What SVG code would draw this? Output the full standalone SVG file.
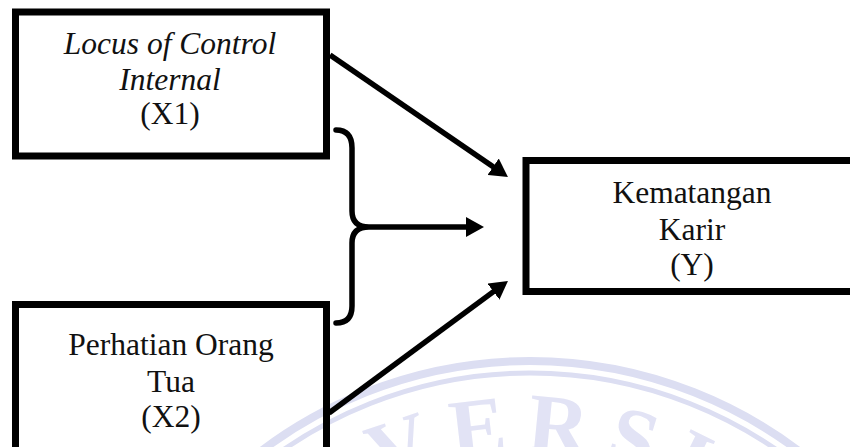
<svg xmlns="http://www.w3.org/2000/svg" xmlns:xlink="http://www.w3.org/1999/xlink" width="850" height="447" viewBox="0 0 850 447">
  <style>
    .box { fill: none; stroke: #000; stroke-width: 7; }
    .lbl { font-family: "Liberation Serif", "Times New Roman", serif; font-size: 31.5px; fill: #111; text-anchor: middle; }
    .it { font-style: italic; }
    .conn { fill: none; stroke: #000; stroke-width: 5.5; }
    .wm { fill: none; stroke: #dcdef2; }
    .wmt { font-family: "Liberation Serif", serif; font-weight: bold; font-size: 84px; fill: #e2e3f5; letter-spacing: 17px; }
  </style>
  <defs>
    <marker id="ah" markerUnits="userSpaceOnUse" markerWidth="18" markerHeight="20" viewBox="0 0 18 20" refX="8" refY="10" orient="auto">
      <path d="M0,0 L18,10 L0,20 z" fill="#000"/>
    </marker>
    <path id="wmArc" d="M175,807 A355,355 0 0 1 885,807"/>
  </defs>
  <rect width="850" height="447" fill="#fff"/>

  <g id="watermark">
    <circle cx="530" cy="807" r="446" class="wm" stroke-width="8"/>
    <circle cx="530" cy="807" r="434" class="wm" stroke-width="5"/>
    <text class="wmt"><textPath xlink:href="#wmArc" href="#wmArc" startOffset="573" text-anchor="middle">VERSI</textPath></text>
  </g>

  <g id="connectors">
    <line class="conn" x1="330" y1="55" x2="499.7" y2="171.3" marker-end="url(#ah)"/>
    <path class="conn" stroke-linecap="round" d="M336,130 Q352,130 352,148 L352,211 Q352,227 369,227 Q352,227 352,243 L352,306 Q352,323 336,323"/>
    <line class="conn" x1="369" y1="227" x2="474" y2="227" marker-end="url(#ah)"/>
    <line class="conn" x1="329" y1="413" x2="499.9" y2="286.9" marker-end="url(#ah)"/>
  </g>

  <g id="node-x1">
    <rect class="box" x="15.5" y="12" width="311" height="144"/>
    <text class="lbl it" x="170" y="54">Locus of Control</text>
    <text class="lbl it" x="170" y="90">Internal</text>
    <text class="lbl" x="170" y="124">(X1)</text>
  </g>

  <g id="node-x2">
    <rect class="box" x="15.5" y="304.5" width="311" height="160"/>
    <text class="lbl" x="171" y="355">Perhatian Orang</text>
    <text class="lbl" x="171" y="392">Tua</text>
    <text class="lbl" x="171" y="427">(X2)</text>
  </g>

  <g id="node-y">
    <rect class="box" x="526" y="160.5" width="340" height="131"/>
    <text class="lbl" x="692" y="203">Kematangan</text>
    <text class="lbl" x="692" y="240">Karir</text>
    <text class="lbl" x="692" y="275">(Y)</text>
  </g>
</svg>
